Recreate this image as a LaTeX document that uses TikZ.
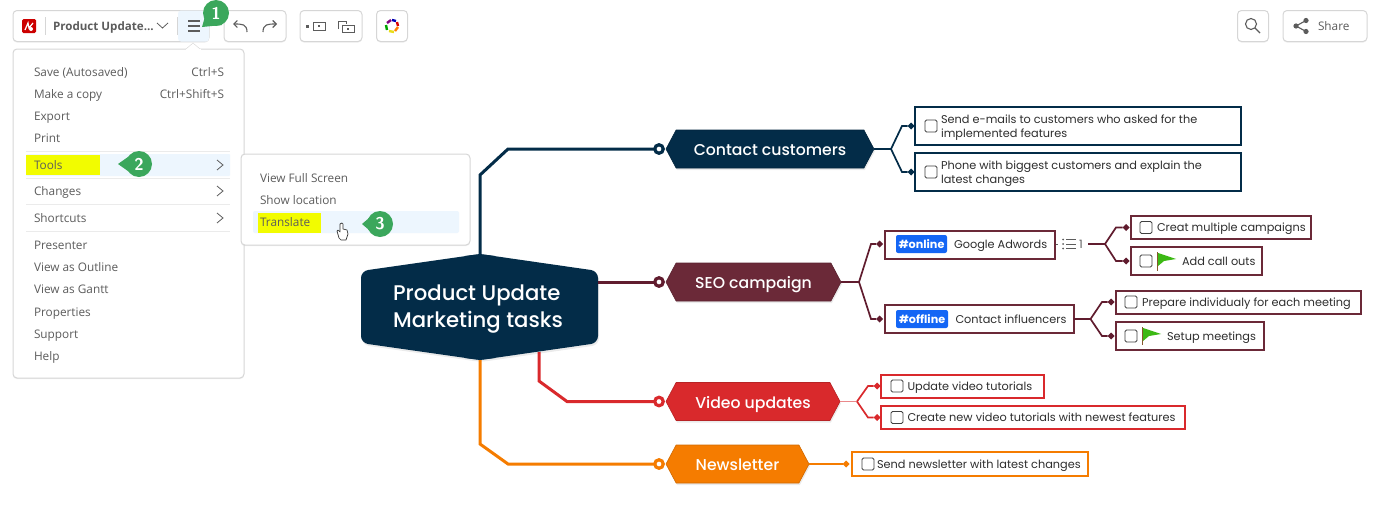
\documentclass[tikz,border=0pt]{standalone}
\usepackage{fontspec}
\usepackage{xcolor}
\usepackage{tikz}
\usetikzlibrary{arrows.meta,positioning,shapes.geometric,shapes.symbols,shadows,calc}
\newfontfamily\uifont{Open Sans}
\newfontfamily\mapfont{Poppins}
\newfontfamily\topicfont{Poppins}[UprightFont=* Medium]
\definecolor{mapnavy}{RGB}{3,44,72}
\definecolor{mapmaroon}{RGB}{107,41,56}
\definecolor{mapwine}{RGB}{96,28,46}
\definecolor{mapred}{RGB}{217,41,44}
\definecolor{maporange}{RGB}{245,124,0}
\definecolor{uiblue}{RGB}{237,246,254}
\definecolor{uiyellow}{RGB}{242,252,0}
\definecolor{uigreen}{RGB}{59,167,92}
\definecolor{uitext}{RGB}{92,92,92}
\definecolor{uiline}{RGB}{214,214,214}
\definecolor{tagblue}{RGB}{20,102,245}
\definecolor{flaggreen}{RGB}{60,185,20}

\begin{document}
\begin{tikzpicture}[
  x=1pt, y=-1pt,
  every node/.style={inner sep=0pt, outer sep=0pt},
  uibox/.style={draw=uiline, line width=1pt, fill=white, rounded corners=4pt,
                drop shadow={opacity=.12, shadow xshift=0pt, shadow yshift=-1.2pt}},
  mitem/.style={anchor=west, text=uitext, text height=10pt, text depth=2pt,
                font=\uifont\fontsize{11.8}{15}\selectfont},
  mkey/.style={anchor=east, text=uitext, text height=10pt, text depth=2pt,
               font=\uifont\fontsize{11.8}{15}\selectfont},
  mark area/.style={fill=uiyellow, minimum height=20pt},
  badge/.style={circle, fill=uigreen, text=white, minimum size=26pt,
                font=\sffamily\bfseries\fontsize{17}{17}\selectfont},
  topic/.style={signal, signal to=east and west, signal pointer angle=124, draw=#1!85!black,
                line width=.6pt, fill=#1, text=white, minimum height=38pt,
                text height=14pt, text depth=1pt,
                font=\topicfont\fontsize{15.7}{20}\selectfont,
                drop shadow={opacity=.16, shadow xshift=1pt, shadow yshift=-2pt}},
  dot/.style={circle, draw=#1, line width=3.2pt, fill=white, minimum size=8.5pt},
  limb/.style={draw=#1, line width=3pt},
  twig/.style={draw=#1, line width=1.7pt},
  tip/.style={diamond, fill=#1, minimum size=7pt},
  task/.style={draw=#1, line width=2pt, fill=white},
  txt/.style={anchor=west, text=black!82, text height=10pt, text depth=2pt,
              font=\mapfont\fontsize{11.3}{15}\selectfont},
  txttwo/.style={anchor=west, align=left, text=black!82, font=\mapfont\fontsize{11.3}{14.5}\selectfont},
  chk/.style={draw=black!75, line width=.9pt, rounded corners=1.5pt, fill=white, minimum size=12pt},
  hashtag/.style={fill=tagblue, rounded corners=2pt, text=white, minimum height=18pt,
                  font=\mapfont\bfseries\fontsize{11.2}{15}\selectfont},
  flagpole/.style={draw=brown!70!black, line width=.8pt},
  icon/.style={draw=uitext, line width=1.1pt}
]
  \useasboundingbox (0,0) rectangle (1380,506);

  % toolbar
  \node[uibox, minimum width=196pt, minimum height=31pt] (filebar) at (111,26) {};
  \fill[uiblue, rounded corners=3pt] (178,10.5) rectangle (209,41.5);
  \node[fill=red!80!black, rounded corners=1.5pt, minimum size=14pt] (logo) at (29,26) {};
  \draw[white, line width=1.2pt] (25,30) -- (28,23) -- (29,28) -- (33,23);
  \fill[white] (31,29) circle (2pt);
  \draw[uiline] (45,17) -- (45,35);
  \node[anchor=west, text=uitext, text height=10pt, text depth=2pt,
        font=\uifont\bfseries\fontsize{11.6}{15}\selectfont] (filename) at (53,26) {Product Update...};
  \draw[icon, line width=.8pt] (157,23) -- (162.5,28) -- (168,23);
  \draw[uiline] (177,17) -- (177,35);
  \draw[icon] (188,21) -- (200,21) (188,26) -- (200,26) (188,31) -- (200,31);
  \node[uibox, minimum width=62pt, minimum height=31pt] (editbar) at (255,26) {};
  \draw[icon, -{Straight Barb[length=3.5pt,width=7pt]}] (247,32) .. controls (247,24) and (242,24) .. (233,24);
  \draw[icon, -{Straight Barb[length=3.5pt,width=7pt]}] (263,32) .. controls (263,24) and (268,24) .. (277,24);
  \node[uibox, minimum width=62pt, minimum height=31pt] (viewbar) at (331,26) {};
  \fill[uitext] (306,24.5) rectangle (309,27.5);
  \draw[icon, line width=.8pt] (313,22) rectangle (325,30);
  \fill[uitext] (318,25) rectangle (320,27);
  \draw[icon, line width=.8pt] (338,29) -- (338,21) -- (346,21) -- (346,24);
  \draw[icon, line width=.8pt] (342,25) rectangle (354,32);
  \fill[uitext] (347,28) rectangle (349,30);
  \node[uibox, minimum width=31pt, minimum height=31pt] (colorbar) at (392,26) {};
  \draw[line width=2.4pt, blue!70!black] (392,20) -- (396,21);
  \draw[line width=2.4pt, red!85!black] (397,22) -- (398,26);
  \draw[line width=2.4pt, orange] (398,27) -- (395,31);
  \draw[line width=2.4pt, yellow!90!black] (394,32) -- (389,31);
  \draw[line width=2.4pt, green!65!black] (387,30) -- (386,25);
  \draw[line width=2.4pt, violet] (387,23) -- (391,20);
  \node[uibox, minimum width=31pt, minimum height=31pt] (searchbtn) at (1253,26) {};
  \draw[icon] (1251,24) circle (5.5pt);
  \draw[icon] (1255,28) -- (1260,33);
  \node[uibox, minimum width=84pt, minimum height=31pt] (sharebtn) at (1325,26) {};
  \draw[icon] (1306,20.5) -- (1296,26) -- (1306,31.5);
  \fill[uitext] (1306,20.5) circle (2.6pt) (1296,26) circle (2.6pt) (1306,31.5) circle (2.6pt);
  \node[mitem] (sharetxt) at (1318,26) {Share};

  % menu
  \node[uibox, minimum width=231pt, minimum height=329pt] (menu) at (128.5,213.5) {};
  \fill[white, draw=uiline] (186,49) -- (193,43) -- (200,49);
  \fill[white] (185.5,49) rectangle (200.5,50.5);
  \fill[uiblue, rounded corners=1pt] (26,154) rectangle (230,176);
  \node[mark area, minimum width=74pt] (toolsmark) at (63,164.5) {};
  \draw[uiline!50] (26,151) -- (230,151) (26,178) -- (230,178) (26,204) -- (230,204) (26,231) -- (230,231);
  \node[mitem] (save) at (34,72) {Save (Autosaved)};
  \node[mitem] (copy) at (34,94) {Make a copy};
  \node[mitem] (export) at (34,116) {Export};
  \node[mitem] (print) at (34,138) {Print};
  \node[mitem] (tools) at (34,165) {Tools};
  \node[mitem] (changes) at (34,191) {Changes};
  \node[mitem] (shortcuts) at (34,218) {Shortcuts};
  \node[mitem] (presenter) at (34,245) {Presenter};
  \node[mitem] (outline) at (34,267) {View as Outline};
  \node[mitem] (gantt) at (34,289) {View as Gantt};
  \node[mitem] (props) at (34,312) {Properties};
  \node[mitem] (support) at (34,334) {Support};
  \node[mitem] (help) at (34,356) {Help};
  \node[mkey] (savekey) at (224,72) {Ctrl+S};
  \node[mkey] (copykey) at (224,94) {Ctrl+Shift+S};
  \draw[icon, line width=.8pt] (217,160) -- (223,165) -- (217,170);
  \draw[icon, line width=.8pt] (217,186) -- (223,191) -- (217,196);
  \draw[icon, line width=.8pt] (217,213) -- (223,218) -- (217,223);

  % submenu
  \node[uibox, minimum width=229pt, minimum height=91pt] (submenu) at (355.5,199.5) {};
  \fill[uiblue, rounded corners=2pt] (253,211) rectangle (459,233);
  \node[mark area, minimum width=63pt] (transmark) at (289.5,222.5) {};
  \node[mitem] (fullscreen) at (260,178) {View Full Screen};
  \node[mitem] (location) at (260,200) {Show location};
  \node[mitem] (translate) at (260,222) {Translate};
  \draw[black!80, fill=white, line width=.7pt, line join=round] (339,238) -- (337,231) -- (338,230) -- (340,232)
    -- (340,224) -- (342,223) -- (343,224) -- (343,229) -- (347,230) -- (348,234) -- (346,240) -- (341,240) -- cycle;

  % badges
  \fill[uigreen] (202,27) -- (208,6) -- (222,25) -- cycle;
  \node[badge] (one) at (216,13) {1};
  \fill[uigreen] (118,164) -- (135,152) -- (135,176) -- cycle;
  \node[badge] (two) at (139,164) {2};
  \fill[uigreen] (362,224) -- (376,212) -- (376,236) -- cycle;
  \node[badge] (three) at (380,224) {3};

  % central topic
  \fill[mapnavy, rounded corners=7pt, drop shadow={opacity=.16, shadow xshift=1pt, shadow yshift=-2pt}]
    (480,254) -- (361,271) -- (361,343) -- (480,360) -- (598,343) -- (598,271) -- cycle;
  \fill[mapnavy] (465,256) -- (480,254) -- (495,256) -- (495,358) -- (480,360) -- (465,358) -- cycle;
  \node[minimum width=237pt, minimum height=106pt, align=left, text=white,
        font=\topicfont\fontsize{21.2}{27}\selectfont] (root) at (478,309)
        {Product Update\\Marketing tasks};

  % main topics
  \node[topic=mapnavy, minimum width=208pt] (contact) at (770,149) {Contact customers};
  \node[topic=mapmaroon, minimum width=175pt] (seo) at (753.5,282) {SEO campaign};
  \node[topic=mapred, minimum width=174pt] (video) at (753,401.5) {Video updates};
  \node[topic=maporange, minimum width=143pt] (news) at (737.5,464) {Newsletter};
  \node[dot=mapnavy] (contactdot) at (659,149) {};
  \node[dot=mapwine] (seodot) at (659,282) {};
  \node[dot=mapred] (videodot) at (659,401.5) {};
  \node[dot=maporange] (newsdot) at (659,464) {};
  \coordinate (rootnorth) at (480,254);
  \coordinate (rootsouth) at (480,360);
  \coordinate (rooteast) at (598,282);
  \coordinate (rootred) at (539,352);
  \draw[limb=mapnavy] (rootnorth) -- (480,175) -- (508,149) -- (contactdot);
  \draw[limb=mapwine] (rooteast) -- (seodot);
  \draw[limb=mapred] (rootred) -- (539,381) -- (567,401.5) -- (videodot);
  \draw[limb=maporange] (rootsouth) -- (480,444) -- (508,464) -- (newsdot);

  % contact customers
  \node[task=mapnavy, minimum width=326pt, minimum height=38pt] (mails) at (1078,126) {};
  \node[task=mapnavy, minimum width=326pt, minimum height=38pt] (phone) at (1078,172) {};
  \node[chk] (mailschk) at (931,126) {};
  \node[chk] (phonechk) at (931,172) {};
  \node[txttwo] (mailstxt) at (941,127.5) {Send e-mails to customers who asked for the\\implemented features};
  \node[txttwo] (phonetxt) at (941,173.5) {Phone with biggest customers and explain the\\latest changes};
  \coordinate (contactfork) at (891,149);
  \node[tip=mapnavy] (mailstip) at (911,126) {};
  \node[tip=mapnavy] (phonetip) at (911,172) {};
  \draw[twig=mapnavy] (contact.east) -- (contactfork) -- (902,126) -- (mailstip);
  \draw[twig=mapnavy] (contactfork) -- (902,172) -- (phonetip);

  % seo campaign
  \node[task=mapmaroon, minimum width=170pt, minimum height=28pt] (adwords) at (969.5,244.5) {};
  \node[task=mapmaroon, minimum width=189pt, minimum height=28pt] (influencers) at (979,319) {};
  \node[hashtag, minimum width=51pt] (onlinetag) at (921.5,244) {\#online};
  \node[hashtag, minimum width=52pt] (offlinetag) at (922,319) {\#offline};
  \node[txt] (adwordstxt) at (954,244) {Google Adwords};
  \node[txt] (influencerstxt) at (955.5,319) {Contact influencers};
  \coordinate (seofork) at (859,282);
  \node[tip=mapwine] (adwordstip) at (879.5,244) {};
  \node[tip=mapwine] (influencerstip) at (879.5,319) {};
  \draw[twig=mapwine] (seo.east) -- (seofork) -- (871,244) -- (adwordstip);
  \draw[twig=mapwine] (seofork) -- (871,319) -- (influencerstip);
  \draw[uitext, line width=1pt] (1056,244) -- (1058,244);
  \draw[uitext, line width=1pt] (1066,239.5) -- (1076,239.5) (1066,244) -- (1076,244) (1066,248.5) -- (1076,248.5);
  \fill[uitext] (1063,239.5) circle (1pt) (1063,244) circle (1pt) (1063,248.5) circle (1pt);
  \node[anchor=west, text=uitext, text height=10pt, text depth=2pt,
        font=\mapfont\fontsize{11.5}{14}\selectfont] (count) at (1079,244) {1};

  \node[task=mapmaroon, minimum width=180pt, minimum height=23pt] (creat) at (1221,227.5) {};
  \node[task=mapmaroon, minimum width=131pt, minimum height=28pt] (callouts) at (1196.5,261) {};
  \node[chk] (creatchk) at (1146,227.5) {};
  \node[chk] (calloutschk) at (1146,261) {};
  \node[txt] (creattxt) at (1157,227.5) {Creat multiple campaigns};
  \node[txt] (calloutstxt) at (1182,261) {Add call outs};
  \draw[flagpole] (1157.5,252) -- (1157.5,271);
  \fill[flaggreen] (1158,253) -- (1176,259) -- (1164,261) -- (1158,266) -- cycle;
  \coordinate (adwordsfork) at (1105,244);
  \coordinate (adwordsout) at (1088,244);
  \node[tip=mapwine] (creattip) at (1126,227.5) {};
  \node[tip=mapwine] (calloutstip) at (1126,261) {};
  \draw[twig=mapwine] (adwordsout) -- (adwordsfork) -- (1116,227.5) -- (creattip);
  \draw[twig=mapwine] (adwordsfork) -- (1116,261) -- (calloutstip);

  \node[task=mapmaroon, minimum width=245pt, minimum height=23pt] (prepare) at (1238,302) {};
  \node[task=mapmaroon, minimum width=148pt, minimum height=28pt] (setup) at (1189.5,336) {};
  \node[chk] (preparechk) at (1131,302) {};
  \node[chk] (setupchk) at (1131,336) {};
  \node[txt] (preparetxt) at (1142,302) {Prepare individualy for each meeting};
  \node[txt] (setuptxt) at (1167,336) {Setup meetings};
  \draw[flagpole] (1142.5,327) -- (1142.5,345);
  \fill[flaggreen] (1143,328) -- (1161,334) -- (1149,336) -- (1143,341) -- cycle;
  \coordinate (influencersfork) at (1090.5,319);
  \node[tip=mapwine] (preparetip) at (1111,302) {};
  \node[tip=mapwine] (setuptip) at (1111,336) {};
  \draw[twig=mapwine] (influencers.east) -- (influencersfork) -- (1102,302) -- (preparetip);
  \draw[twig=mapwine] (influencersfork) -- (1102,336) -- (setuptip);

  % video updates
  \node[task=mapred, minimum width=163pt, minimum height=23pt] (tutorials) at (962.5,386) {};
  \node[task=mapred, minimum width=304pt, minimum height=23pt] (newest) at (1033,417.5) {};
  \node[chk] (tutorialschk) at (897,386) {};
  \node[chk] (newestchk) at (897,417.5) {};
  \node[txt] (tutorialstxt) at (907.5,386) {Update video tutorials};
  \node[txt] (newesttxt) at (907.5,417.5) {Create new video tutorials with newest features};
  \coordinate (videofork) at (857,401.5);
  \node[tip=mapred] (tutorialstip) at (877,386) {};
  \node[tip=mapred] (newesttip) at (877,417.5) {};
  \draw[twig=mapred!55!white] (video.east) -- (videofork);
  \draw[twig=mapred] (videofork) -- (868,386) -- (tutorialstip);
  \draw[twig=mapred] (videofork) -- (868,417.5) -- (newesttip);

  % newsletter
  \node[task=maporange, minimum width=236pt, minimum height=24pt] (latest) at (970,464) {};
  \node[chk] (latestchk) at (868,464) {};
  \node[txt] (latesttxt) at (877,464) {Send newsletter with latest changes};
  \node[tip=maporange] (latesttip) at (846,464) {};
  \draw[twig=maporange] (news.east) -- (latesttip);
\end{tikzpicture}
\end{document}
